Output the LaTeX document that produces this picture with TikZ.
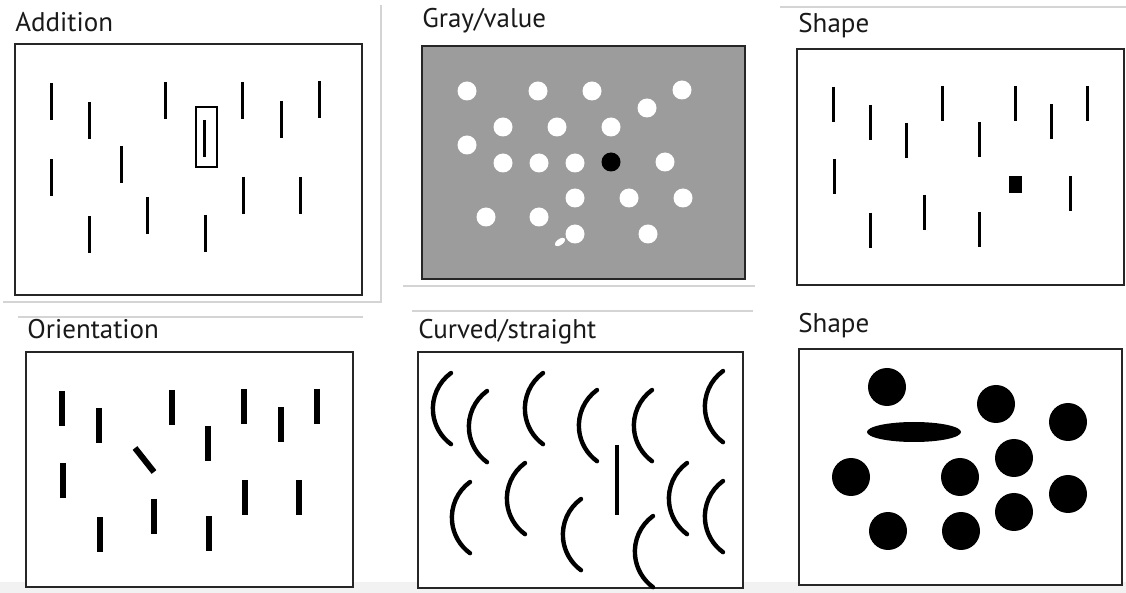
\documentclass[tikz,border=0pt]{standalone}
\usepackage{fontspec}
\setmainfont{PT Sans}

\tikzset{
  frm/.style={draw=black!85, line width=0.7pt, fill=white},
  sep/.style={draw=black!17, line width=0.8pt},
  ttl/.style={anchor=base west, inner sep=0pt, text=black!90,
    font=\fontsize{13.5}{15}\selectfont},
  bar/.style={line width=1.5pt},
  tbar/.style={line width=3pt},
  crv/.style={line width=2.2pt, line cap=round},
  dot/.style={fill=white},
}

\begin{document}
\begin{tikzpicture}[x=0.5pt, y=-0.5pt]
  \useasboundingbox (0,0) rectangle (1126,593);
  \fill[black!5] (0,582) rectangle (1126,593);

  % separators
  \draw[sep] (381,5) -- (381,302) -- (3,302);
  \draw[sep] (18,317) -- (363,317);
  \draw[sep] (403,286) -- (755,286);
  \draw[sep] (412,311) -- (753,311);
  \draw[sep] (780,7) -- (1126,7);

  % titles
  \node[ttl] (add)  at (15,32)   {Addition};
  \node[ttl] (gray) at (422,28)  {Gray/value};
  \node[ttl] (shp1) at (798,33)  {Shape};
  \node[ttl] (ori)  at (27,339)  {Orientation};
  \node[ttl] (cur)  at (418,339) {Curved/straight};
  \node[ttl] (shp2) at (798,333) {Shape};

  % addition
  \draw[frm] (15,44) rectangle (362,295);
  \foreach \x/\y in {51/83,89/102,165/82,242/82,281/101,319/81,204/120,51/159,
                     121/146,147/197,89/216,205/215,243/177,300/177}
    \draw[bar] (\x,\y) -- ++(0,37);
  \draw[line width=0.7pt] (196,107) rectangle (217,167);

  % gray/value
  \draw[frm, fill=black!39] (422,46) rectangle (745,279);
  \foreach \x/\y in {467/91,538/91,592/91,682/90,647/108,503/127,557/127,611/127,
                     467/145,503/163,539/163,575/163,665/162,575/198,629/198,683/198,
                     486/217,539/217,575/234,648/234}
    \fill[dot] (\x,\y) circle[radius=4.75pt];
  \fill (611,162) circle[radius=4.75pt];
  \fill[white, rotate around={35:(560,242)}] (560,242) ellipse[x radius=3pt, y radius=1.5pt];

  % shape (bars)
  \draw[frm] (797,49) rectangle (1124,285);
  \foreach \x/\y in {833/87,870/105,906/123,942/86,979/122,1015/86,1051/104,1087/86,
                     834/159,1070/176,870/213,924/195,979/212}
    \draw[bar] (\x,\y) -- ++(0,35);
  \fill (1009,176) rectangle (1022,193);

  % orientation
  \draw[frm] (26,352) rectangle (353,587);
  \foreach \x/\y in {62/391,99/408,172/390,244/389,281/407,317/389,208/426,
                     63/463,154/499,245/480,299/480,100/517,209/516}
    \draw[tbar] (\x,\y) -- ++(0,35);
  \draw[tbar] (135,448) -- (154,472);

  % curved/straight
  \draw[frm] (418,352) rectangle (743,588);
  \foreach \x/\y in {451/373,487/391,543/373,597/390,652/390,723/371,
                     470/482,525/463,581/499,687/463,723/481,653/516}
    \draw[crv] (\x,\y) arc[start angle=126, end angle=234, radius=22pt];
  \draw[line width=2.2pt] (617,445) -- (617,515);

  % shape (dots)
  \draw[frm] (799,349) rectangle (1122,585);
  \foreach \x/\y in {887/387,996/404,1068/422,1014/458,851/477,960/477,
                     1068/494,1014/512,888/531,961/531}
    \fill (\x,\y) circle[radius=9.5pt];
  \fill (914,432) ellipse[x radius=23.5pt, y radius=5pt];
\end{tikzpicture}
\end{document}
